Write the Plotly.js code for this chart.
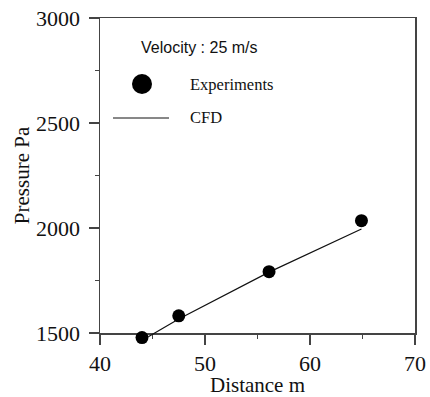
<!DOCTYPE html>
<html><head><meta charset="utf-8">
<script src="https://cdn.plot.ly/plotly-3.0.1.min.js"></script>
<style>html,body{margin:0;padding:0;background:#fff;}#chart{width:430px;height:397px;}</style>
</head><body><div id="chart"></div>
<script>
const expDistance = [44.0, 47.5, 56.1, 64.9];
const expPressure = [1478, 1582, 1792, 2035];
const cfdDistance = [44.6, 47.5, 56.1, 64.9];
const cfdPressure = [1482, 1567, 1790, 1995];
const xTicks = [40, 50, 60, 70];
const yTicks = [1500, 2000, 2500, 3000];
const xRange = [40, 70];
const yRange = [1500, 3000];

// layout geometry (pixels)
const W = 430, H = 397, ML = 100, MR = 15, MT = 18, MB = 44;
const plotBottomPx = 333;                    // where the visible y=1500 axis sits
const PW = W - ML - MR, PH = H - MT - MB;
const visBottomFrac = (H - MB - plotBottomPx) / PH;
const unitsPerPx = (yRange[1] - yRange[0]) / (plotBottomPx - MT);
const dataYRange = [yRange[0] - (H - MB - plotBottomPx) * unitsPerPx, yRange[1]];
const px = v => (v - ML) / PW;
const py = v => (H - MB - v) / PH;

const serif = 'Liberation Serif, Times New Roman, serif';
const sans = 'Liberation Sans, Arial, sans-serif';
const traces = [
  // empty trace so the visible frame axes (x / y) get drawn
  {x: [], y: [], xaxis: 'x', yaxis: 'y', type: 'scatter', mode: 'markers', showlegend: false, hoverinfo: 'skip'},
  {x: cfdDistance, y: cfdPressure, xaxis: 'x2', yaxis: 'y2', mode: 'lines', type: 'scatter',
   line: {color: '#111', width: 1.2}, showlegend: false},
  {x: expDistance, y: expPressure, xaxis: 'x2', yaxis: 'y2', mode: 'markers', type: 'scatter',
   marker: {color: '#000', size: 13}, showlegend: false}
];
const axisCommon = {
  showgrid: false, zeroline: false, showline: true, mirror: true,
  linecolor: '#444', linewidth: 1.5, ticks: 'outside', ticklen: 10, tickwidth: 1.5,
  tickcolor: '#444', tickfont: {family: serif, size: 22, color: '#111'}
};
const layout = {
  width: W, height: H,
  margin: {l: ML, r: MR, t: MT, b: MB},
  paper_bgcolor: '#fff', plot_bgcolor: 'rgba(0,0,0,0)',
  xaxis: Object.assign({}, axisCommon, {
    range: xRange, tickvals: xTicks, ticktext: xTicks.map(String), ticklabelstandoff: 0,
    minor: {dtick: 5, ticklen: 4, ticks: 'outside', tickcolor: '#444', tickwidth: 1.5, showgrid: false},
    title: {text: 'Distance m', font: {family: serif, size: 21, color: '#111'}, standoff: 5}
  }),
  yaxis: Object.assign({}, axisCommon, {
    domain: [visBottomFrac, 1],
    range: yRange, tickvals: yTicks, ticktext: yTicks.map(String), ticklabelstandoff: 4,
    minor: {dtick: 250, ticklen: 4, ticks: 'outside', tickcolor: '#444', tickwidth: 1.5, showgrid: false},
    title: {text: 'Pressure Pa', font: {family: serif, size: 21, color: '#111'}, standoff: 0}
  }),
  xaxis2: {domain: [0, 1], anchor: 'y2', range: xRange, visible: false},
  yaxis2: {domain: [0, 1], anchor: 'x2', range: dataYRange, visible: false},
  shapes: [
    {type: 'circle', xref: 'paper', yref: 'paper',
     x0: px(142 - 10), x1: px(142 + 10), y0: py(84 + 10), y1: py(84 - 10),
     fillcolor: '#000', line: {width: 0}},
    {type: 'line', xref: 'paper', yref: 'paper',
     x0: px(113), x1: px(169), y0: py(118), y1: py(118),
     line: {color: '#111', width: 1}}
  ],
  annotations: [
    {text: 'Velocity : 25 m/s', xref: 'paper', yref: 'paper',
     x: px(139), y: py(47), xanchor: 'left', yanchor: 'middle',
     showarrow: false, font: {family: sans, size: 16, color: '#111'}},
    {text: 'Experiments', xref: 'paper', yref: 'paper',
     x: px(188), y: py(84), xanchor: 'left', yanchor: 'middle',
     showarrow: false, font: {family: serif, size: 16.5, color: '#111'}},
    {text: 'CFD', xref: 'paper', yref: 'paper',
     x: px(188), y: py(118), xanchor: 'left', yanchor: 'middle',
     showarrow: false, font: {family: serif, size: 16.5, color: '#111'}}
  ]
};
Plotly.newPlot('chart', traces, layout, {displayModeBar: false, staticPlot: true});
</script></body></html>
